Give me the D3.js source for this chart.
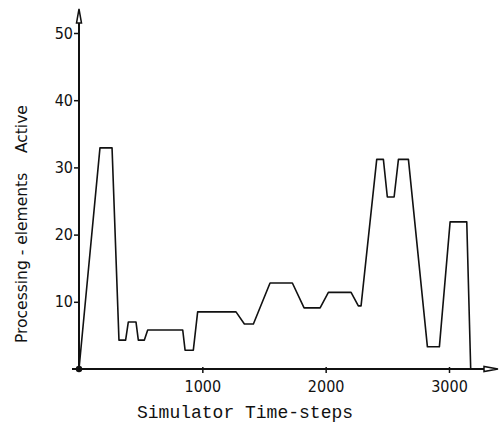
<!DOCTYPE html>
<html>
<head>
<meta charset="utf-8">
<script src="https://cdn.jsdelivr.net/npm/d3@7"></script>
<style>
  body { margin: 0; background: #fff; }
  svg { display: block; }
</style>
</head>
<body>
<svg id="chart" width="502" height="426"></svg>
<script>
// simulator time-steps and number of active processing elements
var timeSteps = [0, 170, 268, 324, 378, 400, 462, 481, 530, 557, 841, 860, 927, 962,
  1273, 1341, 1414, 1549, 1730, 1825, 1955, 2022, 2206, 2265, 2287, 2414, 2468,
  2500, 2555, 2590, 2671, 2825, 2922, 3009, 3144, 3176];
var activePEs = [0, 32.9, 32.9, 4.3, 4.3, 7.0, 7.0, 4.3, 4.3, 5.8, 5.8, 2.8, 2.8, 8.5,
  8.5, 6.7, 6.7, 12.8, 12.8, 9.1, 9.1, 11.4, 11.4, 9.4, 9.4, 31.2, 31.2,
  25.6, 25.6, 31.2, 31.2, 3.3, 3.3, 21.9, 21.9, 0];
var xTicks = [1000, 2000, 3000];
var yTicks = [10, 20, 30, 40, 50];

var svg = d3.select("#chart");

var x = d3.scaleLinear().domain([0, 3000]).range([79, 449]);
var y = d3.scaleLinear().domain([0, 50]).range([369, 33]);

var ink = "#111";

// y axis
var yAxis = svg.append("g")
  .attr("transform", "translate(79,0)")
  .call(d3.axisLeft(y).tickValues(yTicks).tickFormat(d3.format("d")).tickSize(5).tickPadding(1));
yAxis.select(".domain").remove();
yAxis.selectAll("line").attr("stroke", ink).attr("stroke-width", 1.5);
yAxis.selectAll("text")
  .attr("fill", ink)
  .style("font-family", "'DejaVu Sans Condensed', 'DejaVu Sans', sans-serif")
  .style("font-size", "16px");

svg.append("line")
  .attr("x1", 79).attr("x2", 79)
  .attr("y1", 370).attr("y2", 14)
  .attr("stroke", ink).attr("stroke-width", 2);
svg.append("path")
  .attr("d", "M79,9 L76.5,23 L81.5,23 Z")
  .attr("fill", "#fff").attr("stroke", ink).attr("stroke-width", 1.5);

// x axis
var xAxis = svg.append("g")
  .attr("transform", "translate(0,369)")
  .call(d3.axisBottom(x).tickValues(xTicks).tickFormat(d3.format("d")).tickSize(4).tickPadding(8));
xAxis.select(".domain").remove();
xAxis.selectAll("line").attr("stroke", ink).attr("stroke-width", 1.5).attr("y1", -2);
xAxis.selectAll("text")
  .attr("fill", ink)
  .style("font-family", "'DejaVu Sans Condensed', 'DejaVu Sans', sans-serif")
  .style("font-size", "16px");

svg.append("line")
  .attr("x1", 72).attr("x2", 486)
  .attr("y1", 369).attr("y2", 369)
  .attr("stroke", ink).attr("stroke-width", 2);
svg.append("path")
  .attr("d", "M498,369 L484,366.5 L484,371.5 Z")
  .attr("fill", "#fff").attr("stroke", ink).attr("stroke-width", 1.5);

// origin dot
svg.append("circle")
  .attr("cx", x(0)).attr("cy", y(0)).attr("r", 3.2)
  .attr("fill", ink);

// data line
var line = d3.line()
  .x(function(d, i){ return x(timeSteps[i]); })
  .y(function(d){ return y(d); });

svg.append("path")
  .datum(activePEs)
  .attr("d", line)
  .attr("fill", "none")
  .attr("stroke", ink)
  .attr("stroke-width", 1.6)
  .attr("stroke-linejoin", "round");

// axis titles
svg.append("text")
  .attr("x", 137).attr("y", 418)
  .attr("fill", ink)
  .style("font-family", "'Liberation Mono', 'Courier New', monospace")
  .style("font-size", "18px")
  .text("Simulator Time-steps");

svg.append("text")
  .attr("transform", "translate(27,343) rotate(-90)")
  .attr("fill", ink)
  .style("font-family", "'DejaVu Sans', sans-serif")
  .style("font-size", "15.5px")
  .style("white-space", "pre")
  .text("Processing - elements    Active");
</script>
</body>
</html>
